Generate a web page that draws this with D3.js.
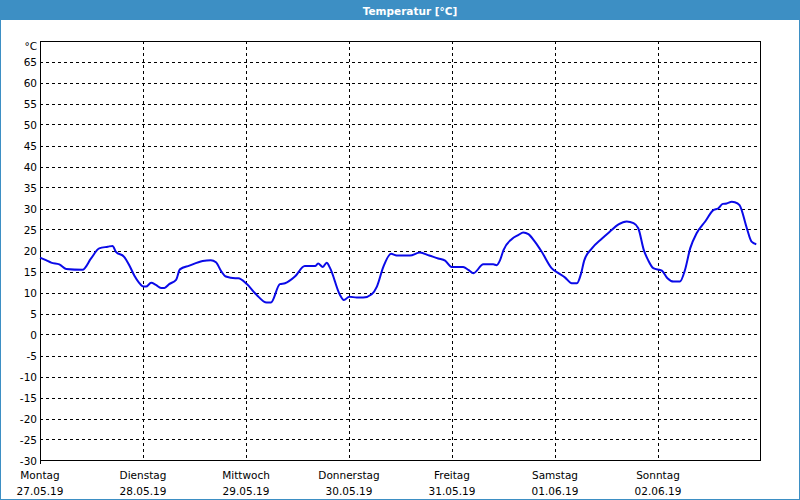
<!DOCTYPE html>
<html>
<head>
<meta charset="utf-8">
<script src="https://cdn.jsdelivr.net/npm/d3@7"></script>
<style>
  html, body { margin: 0; padding: 0; background: #ffffff; }
  svg { display: block; }
</style>
</head>
<body>
<div id="chart"></div>
<script>
// ---- Data ----
const title = "Temperatur [°C]";
const unitLabel = "°C";
const dayNames = ["Montag", "Dienstag", "Mittwoch", "Donnerstag", "Freitag", "Samstag", "Sonntag"];
const dayDates = ["27.05.19", "28.05.19", "29.05.19", "30.05.19", "31.05.19", "01.06.19", "02.06.19"];
const yTicks = [-30, -25, -20, -15, -10, -5, 0, 5, 10, 15, 20, 25, 30, 35, 40, 45, 50, 55, 60, 65];
// hours since Monday 27.05.19 00:00
const hours = [0, 1.4, 2.6, 4.5, 6.1, 9.9, 11.9, 13.8, 15.8, 16.9, 17.7, 19.6, 20.8, 22.0, 23.1, 24.1, 24.7, 25.9, 27.0, 28.2, 29.0, 30.1, 31.7, 32.6, 34.8, 37.9, 39.8, 41.0, 42.2, 43.3, 45.5, 46.2, 48.2, 50.5, 52.8, 53.8, 55.9, 57.1, 59.4, 61.7, 64.1, 64.8, 65.9, 66.8, 67.6, 69.9, 70.8, 72.1, 73.8, 75.3, 77.3, 78.5, 80.0, 81.8, 83.1, 86.2, 88.5, 90.7, 92.8, 94.4, 95.9, 98.6, 99.8, 101.0, 103.3, 105.6, 106.4, 107.2, 108.0, 109.9, 111.5, 112.6, 113.8, 115.3, 116.9, 119.2, 120.8, 122.3, 123.9, 125.1, 126.1, 126.8, 128.6, 130.9, 132.8, 134.8, 136.7, 138.3, 139.4, 140.7, 141.7, 142.9, 144.9, 146.2, 147.6, 149.1, 150.3, 151.5, 153.0, 155.0, 156.9, 158.0, 159.1, 160.0, 161.2, 161.9, 163.0, 164.7, 165.8, 166.9];
const temps = [18.3, 17.7, 17.1, 16.7, 15.6, 15.4, 18.1, 20.5, 20.9, 21.1, 19.7, 18.5, 16.5, 14.0, 12.3, 11.4, 11.4, 12.3, 11.8, 11.1, 11.1, 12.0, 13.0, 15.5, 16.4, 17.5, 17.7, 17.2, 15.1, 13.8, 13.4, 13.4, 12.0, 9.4, 7.6, 7.6, 12.0, 12.2, 13.8, 16.3, 16.3, 16.9, 16.1, 17.1, 15.8, 9.4, 8.2, 9.0, 8.8, 8.8, 9.6, 11.4, 16.1, 19.2, 18.8, 18.8, 19.5, 18.8, 18.1, 17.6, 16.1, 16.1, 15.4, 14.6, 16.7, 16.7, 16.5, 17.7, 20.1, 22.7, 23.7, 24.3, 23.9, 22.1, 19.7, 15.8, 14.6, 13.6, 12.2, 12.2, 14.6, 17.6, 20.5, 22.8, 24.5, 26.2, 26.9, 26.5, 25.3, 20.1, 17.7, 15.8, 15.2, 13.4, 12.6, 12.6, 15.4, 20.5, 24.1, 26.9, 29.6, 30.0, 31.1, 31.2, 31.6, 31.5, 30.8, 25.3, 22.1, 21.5];

// ---- Layout ----
const W = 800, H = 500;
const plot = { left: 40, right: 761, top: 40.5, bottom: 460.5 };
const fontFam = "'DejaVu Sans', Verdana, sans-serif";
const blue = "#3d8fc4";

const svg = d3.select("#chart").append("svg").attr("width", W).attr("height", H);

// background and frame
svg.append("rect").attr("x", 0).attr("y", 0).attr("width", W).attr("height", H).attr("fill", "#ffffff");
svg.append("rect").attr("x", 0.5).attr("y", 0.5).attr("width", W - 1).attr("height", H - 1)
  .attr("fill", "none").attr("stroke", blue).attr("stroke-width", 1);
svg.append("rect").attr("x", 0).attr("y", 0).attr("width", W).attr("height", 20).attr("fill", blue);
svg.append("text").attr("x", 410).attr("y", 14.5).attr("text-anchor", "middle")
  .attr("font-family", fontFam).attr("font-size", 10.5).attr("font-weight", "bold")
  .attr("fill", "#ffffff").text(title);

const x = d3.scaleLinear().domain([0, 168]).range([plot.left, plot.right]);
const y = d3.scaleLinear().domain([-30, 70]).range([plot.bottom, plot.top]);

// horizontal gridlines (dashed)
const g = svg.append("g");
g.selectAll("line.hg").data(yTicks.filter(v => v > -30)).enter().append("line")
  .attr("x1", plot.left).attr("x2", plot.right)
  .attr("y1", d => Math.round(y(d)) + 0.5).attr("y2", d => Math.round(y(d)) + 0.5)
  .attr("stroke", "#000").attr("stroke-width", 1).attr("stroke-dasharray", "3,3")
  .attr("shape-rendering", "crispEdges");

// vertical gridlines (dashed)
const dayIdx = d3.range(1, dayNames.length);
g.selectAll("line.vg").data(dayIdx).enter().append("line")
  .attr("x1", d => Math.round(x(d * 24)) + 0.5).attr("x2", d => Math.round(x(d * 24)) + 0.5)
  .attr("y1", plot.top).attr("y2", plot.bottom)
  .attr("stroke", "#000").attr("stroke-width", 1).attr("stroke-dasharray", "3,3")
  .attr("shape-rendering", "crispEdges");

// plot border
svg.append("rect").attr("x", plot.left + 0.5).attr("y", Math.round(plot.top) + 0.5)
  .attr("width", Math.round(plot.right - plot.left) - 1).attr("height", Math.round(plot.bottom - plot.top) - 1)
  .attr("fill", "none").attr("stroke", "#000").attr("stroke-width", 1).attr("shape-rendering", "crispEdges");
svg.append("line").attr("x1", plot.left + 0.5).attr("x2", plot.left + 0.5)
  .attr("y1", plot.bottom - 1).attr("y2", plot.bottom + 3)
  .attr("stroke", "#000").attr("shape-rendering", "crispEdges");

// y labels
svg.append("g").selectAll("text").data(yTicks).enter().append("text")
  .attr("x", 37).attr("y", d => y(d) + 4).attr("text-anchor", "end")
  .attr("font-family", fontFam).attr("font-size", 10.5).attr("fill", "#000")
  .text(d => d);
svg.append("text").attr("x", 37).attr("y", 50).attr("text-anchor", "end")
  .attr("font-family", fontFam).attr("font-size", 10.5).attr("fill", "#000").text(unitLabel);

// x labels
const xl = svg.append("g").selectAll("g").data(dayNames).enter().append("g");
xl.append("text").attr("x", (d, i) => x(i * 24)).attr("y", 479).attr("text-anchor", "middle")
  .attr("font-family", fontFam).attr("font-size", 10.5).attr("fill", "#000").text(d => d);
xl.append("text").attr("x", (d, i) => x(i * 24)).attr("y", 495).attr("text-anchor", "middle")
  .attr("font-family", fontFam).attr("font-size", 10.5).attr("fill", "#000").text((d, i) => dayDates[i]);

// data line
const pts = hours.map((h, i) => [h, temps[i]]);
const line = d3.line().x(d => x(d[0])).y(d => y(d[1])).curve(d3.curveMonotoneX);
svg.append("path").datum(pts).attr("d", line)
  .attr("fill", "none").attr("stroke", "#0a0ae8").attr("stroke-width", 2)
  .attr("stroke-linejoin", "round");
</script>
</body>
</html>
